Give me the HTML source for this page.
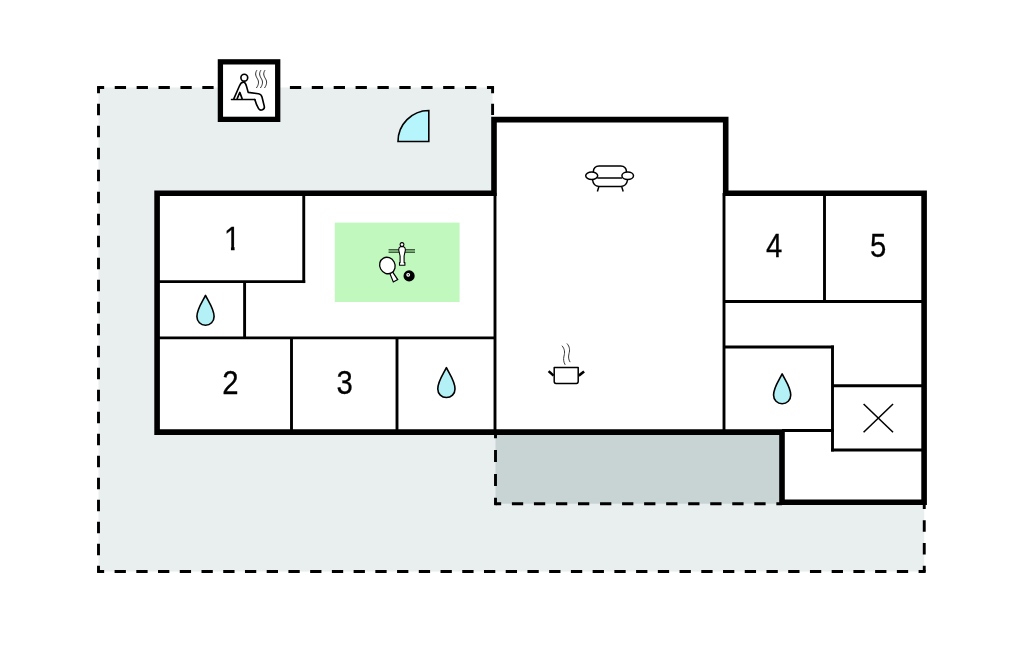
<!DOCTYPE html>
<html lang="en">
<head>
<meta charset="utf-8">
<title>Floor plan</title>
<style>
html,body{margin:0;padding:0;background:#fff;}
body{width:1024px;height:652px;overflow:hidden;}
svg{display:block;}
.num{font-family:"Liberation Sans",Arial,sans-serif;font-size:33.3px;fill:#000;text-anchor:middle;stroke:#000;stroke-width:0.3px;}
.thick{stroke:#000;stroke-width:5.6;fill:none;stroke-linecap:square;}
.thin{stroke:#000;stroke-width:2.9;fill:none;stroke-linecap:butt;}
.dash{stroke:#000;stroke-width:2.9;fill:none;}
.ic{stroke:#000;fill:none;stroke-linecap:round;stroke-linejoin:round;}
.drop{fill:#b3f1f7;stroke:#000;stroke-width:1.6;stroke-linejoin:round;}
</style>
</head>
<body>
<svg width="1024" height="652" viewBox="0 0 1024 652">
<rect width="1024" height="652" fill="#fff"/>
<!-- terrace -->
<polygon points="98.5,87.5 492.6,87.5 492.6,432 924.25,432 924.25,571.5 98.5,571.5" fill="#e9eeee"/>
<!-- covered terrace -->
<rect x="495.5" y="432" width="286.5" height="71.7" fill="#c8d3d3"/>
<!-- building interior -->
<polygon points="157.1,193.3 494,193.3 494,119.6 725.7,119.6 725.7,193.3 924.1,193.3 924.1,502.2 782,502.2 782,432.1 157.1,432.1" fill="#fff"/>

<!-- dashed outlines -->
<g class="dash">
<line x1="98.5" y1="87.5" x2="492.6" y2="87.5" stroke-dasharray="11.3 10.594" stroke-dashoffset="5.65"/>
<line x1="492.6" y1="87.5" x2="492.6" y2="117" stroke-dasharray="11.3 10.5" stroke-dashoffset="5.65"/>
<line x1="98.5" y1="87.5" x2="98.5" y2="571.5" stroke-dasharray="11.3 10.7" stroke-dashoffset="5.65"/>
<line x1="98.5" y1="571.5" x2="924.25" y2="571.5" stroke-dasharray="11.3 10.43" stroke-dashoffset="5.65"/>
<line x1="924.25" y1="571.5" x2="924.25" y2="503.3" stroke-dasharray="11.6 11.133" stroke-dashoffset="5.8"/>
<line x1="495.5" y1="432.25" x2="495.5" y2="503.7" stroke-dasharray="12 11.817" stroke-dashoffset="6"/>
<line x1="495.5" y1="503.7" x2="782" y2="503.7" stroke-dasharray="11.3 10.738" stroke-dashoffset="5.65"/>
</g>
<!-- corner squares for dashed joins -->
<g fill="#000">
<rect x="97.05" y="86.05" width="2.9" height="2.9"/>
<rect x="491.15" y="86.05" width="2.9" height="2.9"/>
<rect x="97.05" y="570.05" width="2.9" height="2.9"/>
<rect x="922.8" y="570.05" width="2.9" height="2.9"/>
<rect x="494.05" y="502.25" width="2.9" height="2.9"/>
</g>

<!-- thin walls -->
<g class="thin">
<line x1="157" y1="281.6" x2="305.2" y2="281.6"/>
<line x1="303.75" y1="193" x2="303.75" y2="283.05"/>
<line x1="244.6" y1="281.6" x2="244.6" y2="338"/>
<line x1="157" y1="337.9" x2="495" y2="337.9"/>
<line x1="291.5" y1="338" x2="291.5" y2="432"/>
<line x1="397" y1="338" x2="397" y2="432"/>
<line x1="495" y1="193" x2="495" y2="432"/>
<line x1="724" y1="193" x2="724" y2="432"/>
<line x1="724" y1="301.5" x2="924" y2="301.5"/>
<line x1="824.5" y1="193" x2="824.5" y2="301.5"/>
<line x1="724" y1="347" x2="833.95" y2="347"/>
<line x1="832.5" y1="345.55" x2="832.5" y2="451.45"/>
<line x1="832.5" y1="385.75" x2="924" y2="385.75"/>
<line x1="831.05" y1="450" x2="924" y2="450"/>
<line x1="782" y1="430.5" x2="833.95" y2="430.5"/>
</g>

<!-- thick walls -->
<polyline class="thick" stroke-linejoin="miter" points="782,432.1 157.1,432.1 157.1,193.3 494,193.3 494,119.6 725.7,119.6 725.7,193.3 924.1,193.3 924.1,502.2 782,502.2 782,432.1"/>

<!-- room numbers -->
<defs><clipPath id="c1"><polygon points="225,220 235.2,220 235.2,245.5 234.55,245.5 234.55,254 230.95,254 230.95,245.5 225,245.5"/></clipPath></defs>
<g class="num" style="opacity:0.999">
<g clip-path="url(#c1)"><text transform="translate(232.1 249.9) scale(0.88 1)">1</text></g>
<text transform="translate(230.5 394.3) scale(0.88 1)">2</text>
<text transform="translate(344.6 394.3) scale(0.88 1)">3</text>
<text transform="translate(774.2 256.9) scale(0.88 1)">4</text>
<text transform="translate(878.2 256.8) scale(0.88 1)">5</text>
</g>
<!-- ICONS -->
<!-- sauna -->
<rect x="220.4" y="61.85" width="57.3" height="57.5" fill="#fff" stroke="#000" stroke-width="5.3"/>
<g class="ic" stroke-width="1.65">
<circle cx="244.3" cy="77.7" r="3.4"/>
<line x1="231.4" y1="99.5" x2="255" y2="99.5" stroke-width="1.3"/>
<path d="M237.2 98.6 L239.8 92.4 L242.1 98.6"/>
<path d="M233.9 98.6 L239.4 86 C240.6 83.2 242.2 81.9 243.8 82.1 C245.4 82.4 246 84.4 246.6 86.6 L248.2 92.4 L258.4 93.7 C260.6 94 261.6 95.4 262 97 L264.3 106.4 C265 109.4 260.6 111.6 258.6 108.6 C257.2 106.4 255.6 102.4 254.8 99.6"/>
</g>
<g class="ic" stroke-width="0.95" style="stroke:#222">
<path d="M256.7 70.5 c-2.3 3.4 -0.6 6 0.9 8.6 c1.4 2.5 1.3 5.4 -1 8.6"/>
<path d="M260.7 70.5 c-2.3 3.4 -0.6 6 0.9 8.6 c1.4 2.5 1.3 5.4 -1 8.6"/>
<path d="M264.8 70.5 c-2.3 3.4 -0.6 6 0.9 8.6 c1.4 2.5 1.3 5.4 -1 8.6"/>
</g>
<!-- door swing -->
<path d="M398 141.5 L428.8 141.5 L428.8 110.5 A31 31 0 0 0 398 141.5 Z" fill="#b5f5fb" stroke="#000" stroke-width="1.6" stroke-linejoin="miter"/>
<!-- games area -->
<rect x="334.75" y="222.6" width="124.85" height="79.4" fill="#c1f8be"/>
<g>
<!-- foosball rod -->
<rect x="388.6" y="249.6" width="26.4" height="2.8" fill="#8fc48d"/>
<line x1="388.6" y1="249.7" x2="415" y2="249.7" stroke="#2b432b" stroke-width="1.05"/>
<line x1="388.6" y1="252.3" x2="415" y2="252.3" stroke="#2b432b" stroke-width="1.05"/>
<!-- foosball man -->
<path d="M402 242.6 a1.9 1.9 0 1 1 -0.01 0 Z" fill="#fff" stroke="#000" stroke-width="1.1"/>
<path d="M400.6 246.6 L403.4 246.6 C405 247.4 405.6 248.4 405.4 250 L404.1 256 L404.1 262.6 L404.9 262.6 L404.9 265.3 L399.5 265.3 L399.5 262.6 L400.1 262.6 L400.1 256 L398.7 250 C398.5 248.4 399 247.4 400.6 246.6 Z" fill="#fff" stroke="#000" stroke-width="1.1" stroke-linejoin="round"/>
<!-- paddle -->
<g transform="rotate(-28 387.4 265.5)">
<path d="M386 272 L388.8 272 L389.9 282.8 L384.9 282.8 Z" fill="#fff" stroke="#000" stroke-width="1.2" stroke-linejoin="miter"/>
<ellipse cx="387.4" cy="265.5" rx="7.6" ry="8.4" fill="#fff" stroke="#000" stroke-width="1.3"/>
</g>
<!-- 8-ball -->
<circle cx="409.1" cy="275.9" r="5.6" fill="#000"/>
<circle cx="408.2" cy="274.8" r="1.9" fill="#fff"/>
<circle cx="408.3" cy="274.8" r="0.8" fill="#333"/>
</g>
<!-- sofa -->
<g class="ic" stroke-width="1.5">
<path d="M593.3 171.5 C593.6 168 595.6 166 599 165.9 L620.8 165.9 C624.2 166 626.2 168 626.5 171.5"/>
<line x1="597.8" y1="177.9" x2="621.6" y2="177.9"/>
<path d="M592.6 180 C593 183.6 595 186.2 599 186.4 L621 186.4 C625 186.2 627 183.6 627.5 180"/>
<ellipse cx="591.7" cy="175.7" rx="6" ry="3.8" fill="#fff"/>
<ellipse cx="627.7" cy="175.7" rx="5.8" ry="3.8" fill="#fff"/>
<line x1="598.8" y1="187.1" x2="597.4" y2="191.4" stroke-linecap="butt"/>
<line x1="621.8" y1="187.1" x2="623.2" y2="191.4" stroke-linecap="butt"/>
</g>
<!-- pot -->
<g class="ic">
<path d="M554.2 367.5 L578.2 367.5 L578.2 381.6 Q578.2 383.4 576.4 383.4 L556 383.4 Q554.2 383.4 554.2 381.6 Z" stroke-width="1.5"/>
<line x1="548.6" y1="371.1" x2="553.6" y2="375.6" stroke-width="2.6" stroke-linecap="butt"/>
<line x1="584.1" y1="371.5" x2="578.8" y2="375.6" stroke-width="2.6" stroke-linecap="butt"/>
<path d="M562.2 346 C564.8 349 565 352.4 564 356 C563.2 359.4 563.6 362 565 364.5" style="stroke:#222" stroke-width="0.9"/>
<path d="M567.2 343.8 C569.8 346.8 570 350 569 353.6 C568.2 357 568.5 359.4 569.9 361.8" style="stroke:#222" stroke-width="0.9"/>
</g>
<!-- water drops -->
<path id="drop" class="drop" d="M0 0 C3 6.2 8.6 13.4 8.6 21.2 C8.6 26.2 4.8 29.8 0 29.8 C-4.8 29.8 -8.6 26.2 -8.6 21.2 C-8.6 13.4 -3 6.2 0 0 Z" transform="translate(205.5 295.4)"/>
<path class="drop" d="M0 0 C3 6.2 8.6 13.4 8.6 21.2 C8.6 26.2 4.8 29.8 0 29.8 C-4.8 29.8 -8.6 26.2 -8.6 21.2 C-8.6 13.4 -3 6.2 0 0 Z" transform="translate(446.4 367.7)"/>
<path class="drop" d="M0 0 C3 6.2 8.6 13.4 8.6 21.2 C8.6 26.2 4.8 29.8 0 29.8 C-4.8 29.8 -8.6 26.2 -8.6 21.2 C-8.6 13.4 -3 6.2 0 0 Z" transform="translate(782.15 373.9)"/>
<!-- X -->
<g stroke="#000" stroke-width="1.55">
<line x1="863.6" y1="404" x2="893.05" y2="432.3"/>
<line x1="893.05" y1="404" x2="863.6" y2="432.3"/>
</g>
</svg>
</body>
</html>
